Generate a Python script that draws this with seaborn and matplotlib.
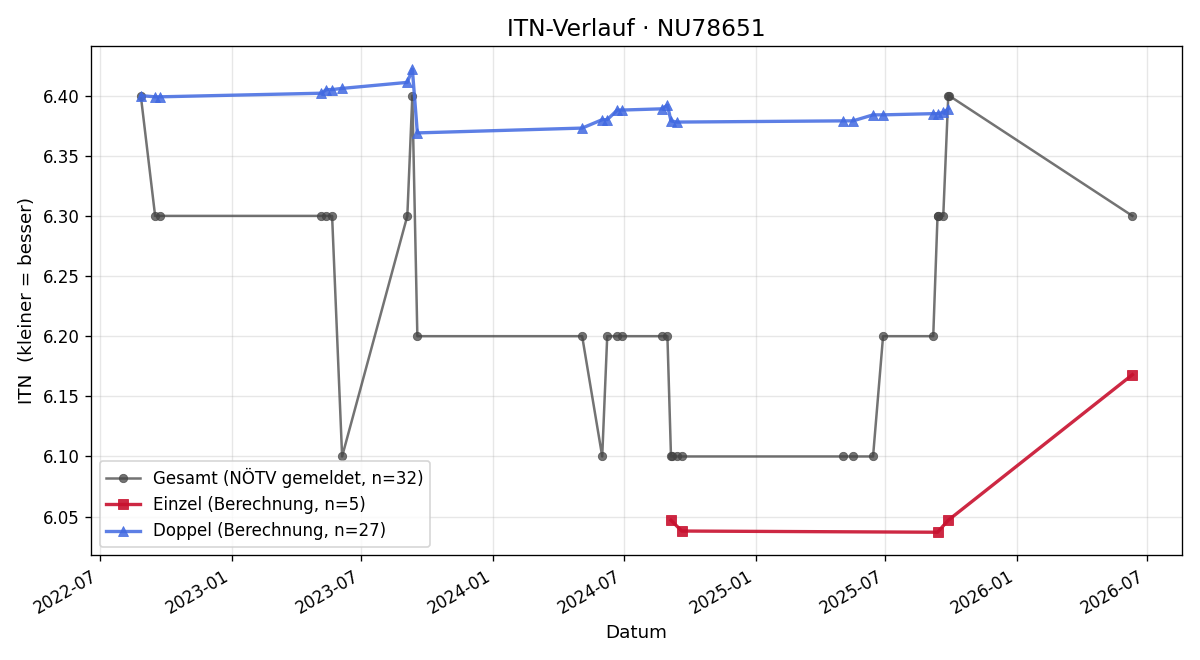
import pandas as pd
import matplotlib.pyplot as plt
import matplotlib.dates as mdates
import seaborn as sns

# Gesamt (NÖTV gemeldet)
gesamt_dates = [
    "2022-08-27", "2022-09-16", "2022-09-23", "2023-05-06", "2023-05-13", "2023-05-21",
    "2023-06-04", "2023-09-03", "2023-09-10", "2023-09-17", "2024-05-04", "2024-06-01",
    "2024-06-08", "2024-06-22", "2024-06-29", "2024-08-23", "2024-08-31", "2024-09-05",
    "2024-09-06", "2024-09-13", "2024-09-20", "2025-05-03", "2025-05-17", "2025-06-14",
    "2025-06-28", "2025-09-06", "2025-09-12", "2025-09-13", "2025-09-20", "2025-09-27",
    "2025-09-28", "2026-06-11",
]
gesamt_itn = [
    6.40, 6.30, 6.30, 6.30, 6.30, 6.30,
    6.10, 6.30, 6.40, 6.20, 6.20, 6.10,
    6.20, 6.20, 6.20, 6.20, 6.20, 6.10,
    6.10, 6.10, 6.10, 6.10, 6.10, 6.10,
    6.20, 6.20, 6.30, 6.30, 6.30, 6.40,
    6.40, 6.30,
]

# Einzel (Berechnung)
einzel_dates = ["2024-09-05", "2024-09-20", "2025-09-12", "2025-09-27", "2026-06-11"]
einzel_itn = [6.047, 6.038, 6.037, 6.047, 6.168]

# Doppel (Berechnung)
doppel_dates = [
    "2022-08-27", "2022-09-16", "2022-09-23", "2023-05-06", "2023-05-13", "2023-05-21",
    "2023-06-04", "2023-09-03", "2023-09-10", "2023-09-17", "2024-05-04", "2024-06-01",
    "2024-06-08", "2024-06-22", "2024-06-29", "2024-08-23", "2024-08-31", "2024-09-05",
    "2024-09-13", "2025-05-03", "2025-05-17", "2025-06-14", "2025-06-28", "2025-09-06",
    "2025-09-12", "2025-09-20", "2025-09-27",
]
doppel_itn = [
    6.400, 6.399, 6.399, 6.402, 6.405, 6.405,
    6.406, 6.411, 6.422, 6.369, 6.373, 6.380,
    6.380, 6.388, 6.388, 6.389, 6.392, 6.379,
    6.378, 6.379, 6.379, 6.384, 6.384, 6.385,
    6.385, 6.386, 6.389,
]

df_g = pd.DataFrame({"Datum": pd.to_datetime(gesamt_dates), "ITN": gesamt_itn})
df_e = pd.DataFrame({"Datum": pd.to_datetime(einzel_dates), "ITN": einzel_itn})
df_d = pd.DataFrame({"Datum": pd.to_datetime(doppel_dates), "ITN": doppel_itn})

fig, ax = plt.subplots(figsize=(10, 5.5), dpi=120)

sns.lineplot(data=df_g, x="Datum", y="ITN", ax=ax, estimator=None, sort=False,
             color="#444444", alpha=0.75, linewidth=1.5, marker="o", markersize=5,
             markeredgecolor="#444444", markeredgewidth=0.5,
             label=f"Gesamt (NÖTV gemeldet, n={len(gesamt_itn)})")
sns.lineplot(data=df_e, x="Datum", y="ITN", ax=ax, estimator=None, sort=False,
             color="#c8102e", alpha=0.9, linewidth=2, marker="s", markersize=6,
             markeredgecolor="#c8102e", markeredgewidth=0.5,
             label=f"Einzel (Berechnung, n={len(einzel_itn)})")
sns.lineplot(data=df_d, x="Datum", y="ITN", ax=ax, estimator=None, sort=False,
             color="#4169e1", alpha=0.85, linewidth=2, marker="^", markersize=6,
             markeredgecolor="#4169e1", markeredgewidth=0.5,
             label=f"Doppel (Berechnung, n={len(doppel_itn)})")

ax.set_title("ITN-Verlauf · NU78651", fontsize=14)
ax.set_xlabel("Datum", fontsize=11)
ax.set_ylabel("ITN  (kleiner = besser)", fontsize=11)
ax.xaxis.set_major_locator(mdates.MonthLocator(bymonth=[1, 7]))
ax.xaxis.set_major_formatter(mdates.DateFormatter("%Y-%m"))
ax.grid(True, alpha=0.3)
ax.legend(loc="lower left", fontsize=10)
fig.autofmt_xdate()
fig.tight_layout()
fig.savefig("out.png")
